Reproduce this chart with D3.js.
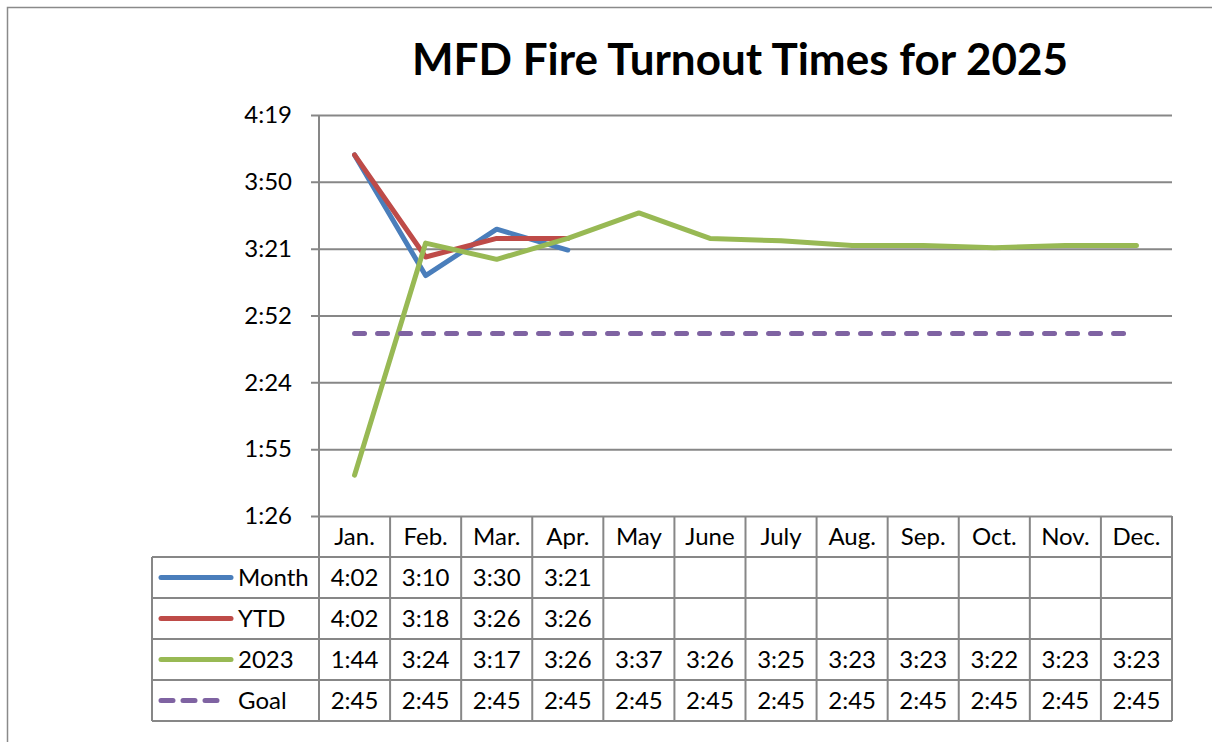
<!DOCTYPE html>
<html>
<head>
<meta charset="utf-8">
<script src="https://cdn.jsdelivr.net/npm/d3@7"></script>
<style>
  body { margin: 0; background: #fff; }
  svg text { font-family: Lato, "Open Sans", sans-serif; fill: #000; }
</style>
</head>
<body>
<script>
  var months = ["Jan.", "Feb.", "Mar.", "Apr.", "May", "June", "July", "Aug.", "Sep.", "Oct.", "Nov.", "Dec."];
  var monthTimes = ["4:02", "3:10", "3:30", "3:21"];
  var ytdTimes = ["4:02", "3:18", "3:26", "3:26"];
  var times2023 = ["1:44", "3:24", "3:17", "3:26", "3:37", "3:26", "3:25", "3:23", "3:23", "3:22", "3:23", "3:23"];
  var goalTimes = ["2:45", "2:45", "2:45", "2:45", "2:45", "2:45", "2:45", "2:45", "2:45", "2:45", "2:45", "2:45"];

  // y axis ticks (seconds) and their labels
  var yTickSecs = [86.4, 115.2, 144, 172.8, 201.6, 230.4, 259.2];
  var yTickLabels = ["1:26", "1:55", "2:24", "2:52", "3:21", "3:50", "4:19"];

  var W = 1212, H = 742;
  var pLeft = 319, pRight = 1172, pTop = 115, pBottom = 516;
  var rowH = 41;
  var fs = 24;

  function toSec(s) {
    var p = s.split(":");
    return +p[0] * 60 + +p[1];
  }

  var series = [
    {name: "Month", values: monthTimes, color: "#4A7EBB", dash: null, keyDash: null},
    {name: "YTD", values: ytdTimes, color: "#BE4B48", dash: null, keyDash: null},
    {name: "2023", values: times2023, color: "#98B954", dash: null, keyDash: null},
    {name: "Goal", values: goalTimes, color: "#7F63A2", dash: "10,13", keyDash: "12,10"}
  ];

  var svg = d3.select("body").append("svg")
      .attr("width", W)
      .attr("height", H);

  // chart frame
  svg.append("path")
      .attr("d", "M7.5," + H + "V7.5H" + W)
      .attr("fill", "none")
      .attr("stroke", "#8a8a8a")
      .attr("stroke-width", 1.5);

  svg.append("text")
      .attr("x", 740)
      .attr("y", 75)
      .attr("text-anchor", "middle")
      .attr("font-weight", "bold")
      .attr("font-size", 44)
      .text("MFD Fire Turnout Times for 2025");

  var x = d3.scaleBand().domain(months).range([pLeft, pRight]);
  var y = d3.scaleLinear().domain([86.4, 259.2]).range([pBottom, pTop]);

  // gridlines + labels
  var yAxis = svg.append("g")
      .attr("transform", "translate(311,0)")
      .call(d3.axisLeft(y)
        .tickValues(yTickSecs)
        .tickFormat(function(d, i) { return yTickLabels[i]; })
        .tickSize(-(pRight - 311))
        .tickPadding(19));
  yAxis.attr("font-family", null).attr("font-size", null);
  yAxis.select(".domain").remove();
  yAxis.selectAll("line").attr("stroke", "#878787").attr("stroke-width", 2);
  yAxis.selectAll("text").attr("font-size", fs);

  // table grid
  var tableBottom = pBottom + rowH * 5;
  var grid = svg.append("g")
      .attr("stroke", "#878787")
      .attr("stroke-width", 2)
      .attr("fill", "none");

  grid.append("line")
      .attr("x1", pLeft).attr("x2", pLeft)
      .attr("y1", pTop).attr("y2", tableBottom);

  grid.selectAll(".hl")
      .data(d3.range(1, 6))
      .enter().append("line")
      .attr("x1", 152).attr("x2", pRight)
      .attr("y1", function(d) { return pBottom + d * rowH; })
      .attr("y2", function(d) { return pBottom + d * rowH; });

  grid.append("line")
      .attr("x1", 152).attr("x2", 152)
      .attr("y1", pBottom + rowH).attr("y2", tableBottom);

  grid.selectAll(".vl")
      .data(months)
      .enter().append("line")
      .attr("x1", function(d) { return x(d) + x.bandwidth(); })
      .attr("x2", function(d) { return x(d) + x.bandwidth(); })
      .attr("y1", pBottom).attr("y2", tableBottom);

  // header row
  svg.selectAll(".mlab")
      .data(months)
      .enter().append("text")
      .attr("x", function(d) { return x(d) + x.bandwidth() / 2; })
      .attr("y", pBottom + rowH / 2)
      .attr("dy", "0.36em")
      .attr("text-anchor", "middle")
      .attr("font-size", fs)
      .text(function(d) { return d; });

  // lines
  var line = d3.line()
      .x(function(d, i) { return x(months[i]) + x.bandwidth() / 2; })
      .y(function(d) { return y(toSec(d)); });

  series.forEach(function(s, si) {
    svg.append("path")
        .attr("d", line(s.values))
        .attr("fill", "none")
        .attr("stroke", s.color)
        .attr("stroke-width", 5)
        .attr("stroke-linejoin", "round")
        .attr("stroke-linecap", "round")
        .attr("stroke-dasharray", s.dash);

    var cy = pBottom + rowH * (si + 1) + rowH / 2;

    // legend key
    svg.append("line")
        .attr("x1", 161).attr("x2", s.keyDash ? 217 : 231)
        .attr("y1", cy).attr("y2", cy)
        .attr("stroke", s.color)
        .attr("stroke-width", 5)
        .attr("stroke-linecap", "round")
        .attr("stroke-dasharray", s.keyDash);

    svg.append("text")
        .attr("x", 238)
        .attr("y", cy)
        .attr("dy", "0.36em")
        .attr("font-size", fs)
        .text(s.name);

    svg.selectAll(".v" + si)
        .data(s.values)
        .enter().append("text")
        .attr("x", function(d, i) { return x(months[i]) + x.bandwidth() / 2; })
        .attr("y", cy)
        .attr("dy", "0.36em")
        .attr("text-anchor", "middle")
        .attr("font-size", fs)
        .text(function(d) { return d; });
  });
</script>
</body>
</html>
